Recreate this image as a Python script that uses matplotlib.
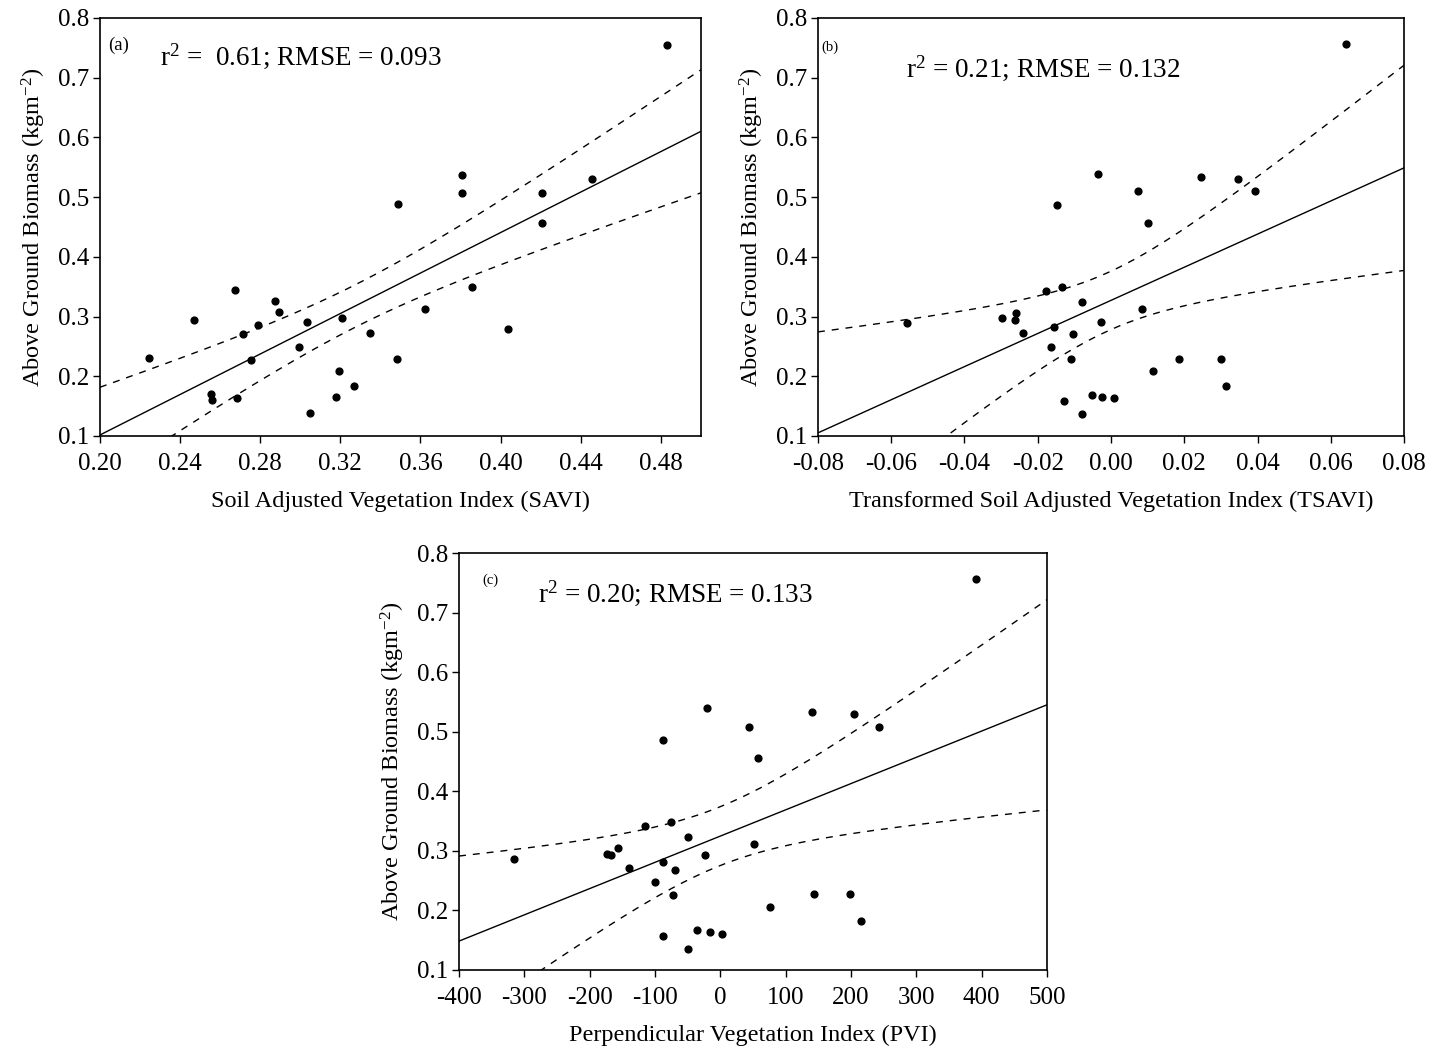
import numpy as np
import matplotlib
matplotlib.use('Agg')
import matplotlib.pyplot as plt

plt.rcParams['font.family'] = ['Liberation Serif', 'DejaVu Serif']
plt.rcParams['mathtext.fontset'] = 'custom'
plt.rcParams['mathtext.rm'] = 'Liberation Serif'
plt.rcParams['mathtext.it'] = 'Liberation Serif:italic'

# ── data ───────────────────────────────────────────────────────────────────
savi = [0.483, 0.3805, 0.3805, 0.4456, 0.4205, 0.4205, 0.349, 0.3857, 0.3622,
        0.4038, 0.3485, 0.335, 0.321, 0.3195, 0.3268, 0.3177, 0.305, 0.3033,
        0.2996, 0.2875, 0.2895, 0.2788, 0.2715, 0.2676, 0.2754, 0.2685,
        0.2555, 0.256, 0.247, 0.2244]
agb_a = [0.755, 0.537, 0.5065, 0.531, 0.5065, 0.457, 0.488, 0.350, 0.3125,
         0.279, 0.229, 0.273, 0.298, 0.2085, 0.184, 0.1647, 0.138, 0.291,
         0.249, 0.326, 0.307, 0.2855, 0.2715, 0.3445, 0.228, 0.163, 0.170,
         0.1607, 0.295, 0.231]

tsavi = [0.0641, -0.0035, -0.0148, 0.0245, 0.0347, 0.0075, 0.0394, 0.010,
         -0.0134, -0.0178, -0.0078, 0.0086, -0.0258, -0.0297, -0.0262,
         -0.0027, -0.0557, -0.0155, -0.0239, -0.0104, -0.0163, -0.0109,
         0.0185, 0.030, 0.0116, 0.0315, -0.0053, -0.0129, -0.0024, 0.0007,
         -0.0078]
agb_b = [0.757, 0.539, 0.4876, 0.5337, 0.531, 0.5096, 0.5096, 0.4567, 0.35,
         0.3433, 0.3247, 0.313, 0.306, 0.297, 0.294, 0.2916, 0.289, 0.2826,
         0.2725, 0.270, 0.2489, 0.229, 0.229, 0.229, 0.2084, 0.183, 0.1685,
         0.159, 0.1657, 0.163, 0.1376]

pvi = [392, -20, -87, 140, 204, 44, 243, 57, -75, -115, -50, 51, -156, -174,
       -168, -23, -316, -87, -140, -70, -100, -73, 143, 198, 76, 216, -36,
       -87, -16, 3, -50]
agb_c = [0.757, 0.539, 0.4865, 0.5326, 0.530, 0.508, 0.508, 0.4556, 0.349,
         0.3416, 0.3236, 0.3107, 0.305, 0.2955, 0.2927, 0.2927, 0.287, 0.281,
         0.2713, 0.2685, 0.247, 0.2253, 0.228, 0.228, 0.2056, 0.1826, 0.1663,
         0.157, 0.1635, 0.1607, 0.1354]

panel_tags = ['(a)', '(b)', '(c)']
stats_text = [r'r$^2$ =  0.61; RMSE = 0.093',
              r'r$^2$ = 0.21; RMSE = 0.132',
              r'r$^2$ = 0.20; RMSE = 0.133']
xlabels = ['Soil Adjusted Vegetation Index (SAVI)',
           'Transformed Soil Adjusted Vegetation Index (TSAVI)',
           'Perpendicular Vegetation Index (PVI)']
ylabel = r'Above Ground Biomass (kgm$^{-2}$)'
T_95 = 2.045  # two-sided t for ~29 df


def fit_with_band(x, y, xs):
    x = np.asarray(x, float); y = np.asarray(y, float)
    n = len(x)
    b, a = np.polyfit(x, y, 1)
    resid = y - (a + b * x)
    s = np.sqrt(np.sum(resid ** 2) / (n - 2))
    sxx = np.sum((x - x.mean()) ** 2)
    yh = a + b * xs
    half = T_95 * s * np.sqrt(1.0 / n + (xs - x.mean()) ** 2 / sxx)
    return yh, yh - half, yh + half


def draw_panel(ax, x, y, xlim, xticks, xfmt, tag, stxt, xlab,
               tag_pos, txt_pos, tag_size):
    xs = np.linspace(xlim[0], xlim[1], 200)
    yh, lo, hi = fit_with_band(x, y, xs)
    ax.plot(xs, yh, color='black', lw=1.0)
    ax.plot(xs, lo, color='black', lw=1.0, ls=(0, (5, 5)))
    ax.plot(xs, hi, color='black', lw=1.0, ls=(0, (5, 5)))
    ax.scatter(x, y, s=24, color='black', zorder=3)
    ax.set_xlim(*xlim); ax.set_ylim(0.1, 0.8)
    ax.set_xticks(xticks)
    ax.set_xticklabels([xfmt(t) for t in xticks])
    ax.set_yticks(np.arange(0.1, 0.81, 0.1))
    ax.set_yticklabels([f'{t:.1f}' for t in np.arange(0.1, 0.81, 0.1)])
    ax.tick_params(direction='out', length=5, width=1, labelsize=18)
    ax.tick_params(axis='x', pad=7)
    ax.tick_params(axis='y', pad=3)
    for sp in ax.spines.values():
        sp.set_linewidth(1.2)
    ax.set_xlabel(xlab, fontsize=17.5, labelpad=12)
    ax.set_ylabel(ylabel, fontsize=17.5, labelpad=7)
    ax.text(*tag_pos, tag, transform=ax.transAxes, fontsize=tag_size,
            va='top', ha='left')
    ax.text(*txt_pos, stxt, transform=ax.transAxes, fontsize=19.5,
            va='top', ha='left')


fig = plt.figure(figsize=(14.34, 10.51), dpi=100)

ax_a = fig.add_axes([0.0697, 0.5852, 0.4191, 0.3977])
draw_panel(ax_a, savi, agb_a, (0.20, 0.50), np.arange(0.20, 0.49, 0.04),
           lambda t: f'{t:.2f}', panel_tags[0], stats_text[0], xlabels[0],
           (0.013, 0.955), (0.10, 0.945), 13.5)

ax_b = fig.add_axes([0.5704, 0.5852, 0.4087, 0.3977])
draw_panel(ax_b, tsavi, agb_b, (-0.08, 0.08), np.arange(-0.08, 0.081, 0.02),
           lambda t: f'{t:.2f}', panel_tags[1], stats_text[1], xlabels[1],
           (0.005, 0.945), (0.15, 0.915), 10.5)

ax_c = fig.add_axes([0.3201, 0.0771, 0.4100, 0.3967])
draw_panel(ax_c, pvi, agb_c, (-400, 500), np.arange(-400, 501, 100),
           lambda t: f'{t:.0f}', panel_tags[2], stats_text[2], xlabels[2],
           (0.04, 0.95), (0.135, 0.94), 10.5)

fig.savefig('out.png', dpi=100)
